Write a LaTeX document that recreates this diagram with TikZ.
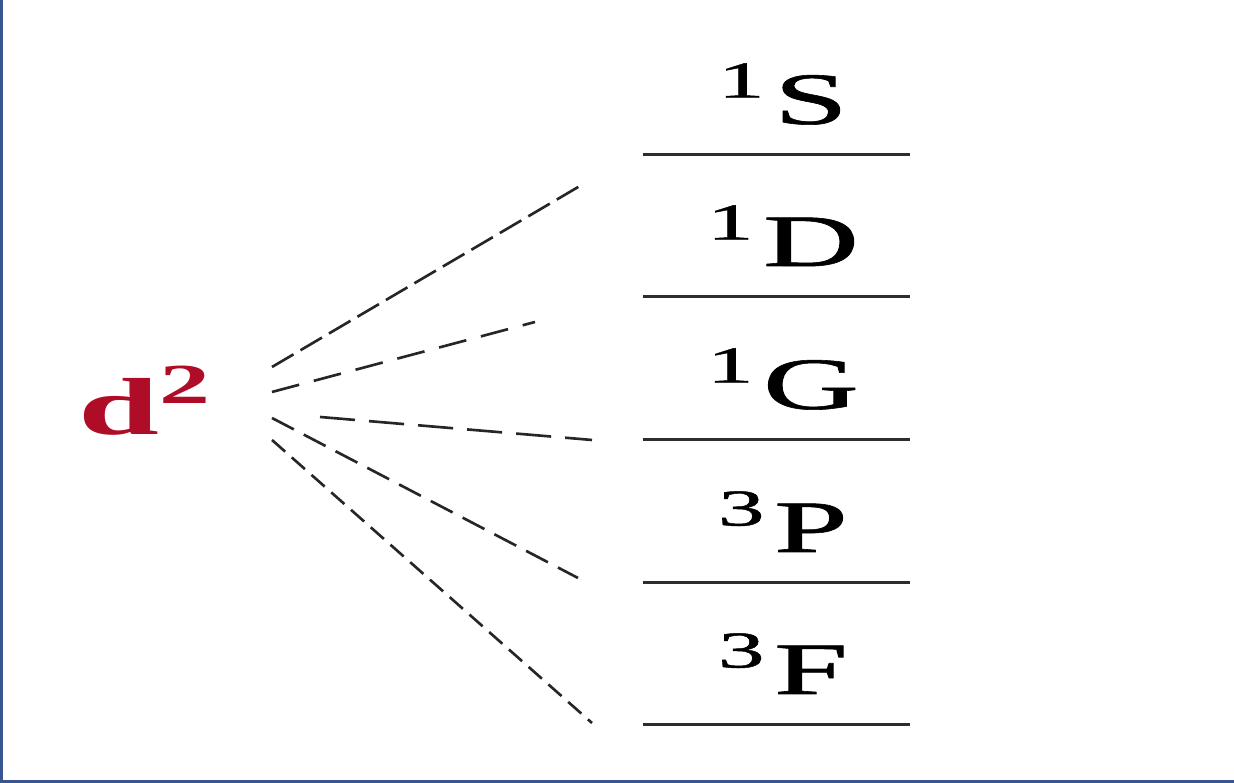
\documentclass[tikz,border=0pt]{standalone}
\usepackage{fontspec}
\setmainfont{Liberation Serif}
\newfontfamily\termfont[FakeBold=0.8]{Liberation Serif}
\usepackage{xcolor}
\usetikzlibrary{positioning, calc}

\definecolor{frameblue}{RGB}{55,85,145}
\definecolor{configred}{RGB}{175,12,40}
\definecolor{barGray}{RGB}{45,45,45}

\begin{document}
\begin{tikzpicture}[
    term/.style={anchor=base, inner sep=0pt, font=\fontsize{21}{25}\termfont},
    level/.style={barGray, line width=0.85pt},
    link/.style={black!85, line width=0.75pt}
]
\useasboundingbox (0,0) rectangle (12.34,7.83);

% ── Frame (left and bottom only) ─────────────────────────────────
\draw[frameblue, line width=0.85pt] (0.012,7.83) -- (0.012,0.012) -- (12.34,0.012);

% ── Configuration ────────────────────────────────────────────────
\node[anchor=base, inner sep=0pt, text=configred, font=\fontsize{23}{27}\selectfont\bfseries]
    (conf) at (1.46, 3.48) {\scalebox{1.8}[1]{d\textsuperscript{2}}};

% ── Term levels ──────────────────────────────────────────────────
\foreach \i/\y/\lab in {1/6.28/{\textsuperscript{1}\kern1pt S},
                        2/4.86/{\textsuperscript{1}\kern1pt D},
                        3/3.43/{\textsuperscript{1}\kern1pt G},
                        4/2.00/{\textsuperscript{3}\kern1pt P},
                        5/0.58/{\textsuperscript{3}\kern1pt F}} {
    \draw[level] (6.43,\y) coordinate (L\i w) -- (9.10,\y) coordinate (L\i e);
    \node[term] (T\i) at (7.83,\y+0.31) {\scalebox{1.8}[1]{\lab}};
}

% ── Dashed couplings ─────────────────────────────────────────────
\coordinate (s1) at (2.72,4.16);  \coordinate (e1) at (5.85,6.00);
\coordinate (s2) at (2.72,3.91);  \coordinate (e2) at (5.35,4.61);
\coordinate (s3) at (3.20,3.66);  \coordinate (e3) at (5.92,3.43);
\coordinate (s4) at (2.72,3.65);  \coordinate (e4) at (5.78,2.05);
\coordinate (s5) at (2.72,3.43);  \coordinate (e5) at (5.92,0.60);

\draw[link, dash pattern=on 7.1pt off 2.3pt] (s1) -- (e1);
\draw[link, dash pattern=on 8pt off 4.3pt]   (s2) -- (e2);
\draw[link, dash pattern=on 10pt off 4pt]    (s3) -- (e3);
\draw[link, dash pattern=on 7pt off 3.2pt]   (s4) -- (e4);
\draw[link, dash pattern=on 5pt off 2.5pt]   (s5) -- (e5);

\end{tikzpicture}
\end{document}
